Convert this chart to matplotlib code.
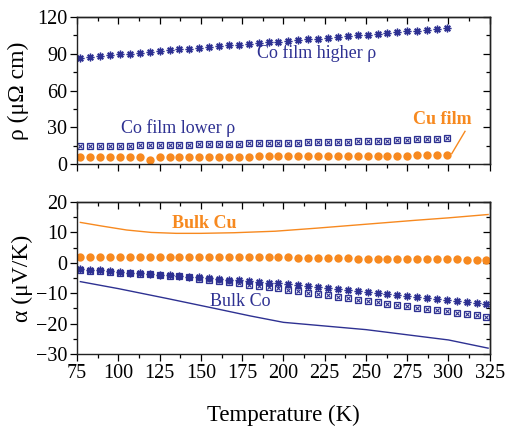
import matplotlib
matplotlib.use("Agg")
import matplotlib.pyplot as plt
from matplotlib.ticker import MultipleLocator
import numpy as np

plt.rcParams['font.family'] = ['Liberation Serif', 'DejaVu Serif']

navy = '#2e3192'
orange = '#f7891f'

# temperatures of the measured points (K)
T_top = np.arange(77, 300, 6)      # 38 points, resistivity
T_bot = np.arange(77, 324, 6)      # 42 points, Seebeck

# resistivity (uOhm cm)
rho_co_high = [86.5, 87.3, 88.0, 88.8, 89.5, 90.2, 90.9, 91.6, 92.3, 93.0,
               93.6, 94.3, 94.9, 95.6, 96.2, 96.9, 97.5, 98.1, 98.8, 99.4,
               100.0, 100.7, 101.3, 101.9, 102.5, 103.2, 103.8, 104.4, 105.1, 105.7,
               106.3, 107.0, 107.6, 108.3, 108.9, 109.6, 110.2, 110.9]
rho_co_low = [14.4, 14.5, 14.6, 14.8, 14.9, 15.0, 15.1, 15.3, 15.4, 15.5,
              15.7, 15.8, 15.9, 16.1, 16.2, 16.4, 16.5, 16.7, 16.8, 17.0,
              17.1, 17.3, 17.4, 17.6, 17.8, 17.9, 18.1, 18.3, 18.5, 18.7,
              18.9, 19.1, 19.4, 19.7, 20.0, 20.3, 20.7, 21.1]
rho_cu = [5.4, 5.4, 5.5, 5.5, 5.5, 5.6, 5.6, 3.5, 5.7, 5.7,
          5.8, 5.8, 5.8, 5.9, 5.9, 6.0, 6.0, 6.0, 6.1, 6.1,
          6.2, 6.2, 6.2, 6.3, 6.3, 6.4, 6.4, 6.5, 6.5, 6.6,
          6.6, 6.7, 6.7, 6.8, 6.9, 7.0, 7.1, 7.3]

# Seebeck coefficient (uV/K)
S_co_high = [-2.1, -2.3, -2.5, -2.8, -3.0, -3.2, -3.4, -3.6, -3.9, -4.1,
             -4.3, -4.6, -4.8, -5.1, -5.3, -5.6, -5.8, -6.1, -6.3, -6.6,
             -6.8, -7.1, -7.4, -7.8, -8.1, -8.4, -8.7, -9.0, -9.3, -9.7,
             -10.0, -10.3, -10.6, -10.9, -11.2, -11.6, -11.9, -12.2, -12.5, -12.9,
             -13.2, -13.5]
S_co_low = [-2.4, -2.6, -2.8, -3.0, -3.2, -3.4, -3.6, -3.8, -4.0, -4.2,
            -4.5, -4.8, -5.2, -5.6, -6.0, -6.4, -6.8, -7.2, -7.6, -8.0,
            -8.4, -8.9, -9.3, -9.8, -10.2, -10.7, -11.2, -11.6, -12.1, -12.5,
            -13.0, -13.4, -13.9, -14.3, -14.8, -15.2, -15.6, -16.0, -16.4, -16.9,
            -17.3, -17.7]
S_cu = [1.9, 1.9, 1.9, 1.9, 1.9, 1.9, 1.9, 1.9, 1.9, 1.9,
        1.9, 1.9, 1.9, 1.9, 1.8, 1.8, 1.8, 1.8, 1.8, 1.8,
        1.8, 1.8, 1.7, 1.7, 1.6, 1.6, 1.5, 1.5, 1.4, 1.4,
        1.4, 1.3, 1.3, 1.3, 1.2, 1.2, 1.1, 1.1, 1.1, 1.0,
        1.0, 0.9]

# bulk reference curves
T_bulk_cu = [77, 90, 105, 120, 135, 150, 170, 195, 220, 250, 280, 300, 324]
S_bulk_cu = [13.3, 12.1, 10.8, 10.0, 9.7, 9.7, 9.9, 10.4, 11.4, 12.7, 14.0, 14.8, 15.9]
T_bulk_co = [77, 100, 130, 160, 180, 200, 225, 250, 275, 300, 324]
S_bulk_co = [-6.2, -8.5, -11.8, -15.2, -17.5, -19.6, -20.8, -22.0, -23.7, -25.4, -28.1]

fig = plt.figure(figsize=(5.07, 4.29), dpi=100)
ax1 = fig.add_axes([0.152, 0.618, 0.814, 0.342])
ax2 = fig.add_axes([0.152, 0.175, 0.814, 0.354])

star = dict(marker=(8, 2, 0), ls='none', ms=5.5, mew=1.0, color=navy)
box = dict(marker='s', ls='none', ms=4.6, mew=0.9, mfc='none', mec=navy)
cross = dict(marker='x', ls='none', ms=3.2, mew=0.8, color=navy)
dot = dict(marker='o', ls='none', ms=6.0, mew=0, color=orange)

# top: resistivity
ax1.plot(T_top, rho_co_high, **star)
ax1.plot(T_top, rho_co_low, **box)
ax1.plot(T_top, rho_co_low, **cross)
ax1.plot(T_top, rho_cu, **dot)
ax1.text(220, 91, 'Co film higher ρ', color=navy, fontsize=13, ha='center', va='center')
ax1.text(136, 29.5, 'Co film lower ρ', color=navy, fontsize=13, ha='center', va='center')
ax1.text(296, 36, 'Cu film', color=orange, fontsize=13, fontweight='bold', ha='center', va='center')
ax1.plot([302, 310], [8.4, 26.6], color=orange, lw=1)
ax1.set_ylim(0, 120)
ax1.yaxis.set_major_locator(MultipleLocator(30))
ax1.yaxis.set_minor_locator(MultipleLocator(15))
ax1.set_ylabel('ρ (μΩ cm)', fontsize=17, labelpad=6)
ax1.tick_params(labelbottom=False)

# bottom: Seebeck
ax2.plot(T_bulk_cu, S_bulk_cu, color=orange, lw=1)
ax2.plot(T_bulk_co, S_bulk_co, color=navy, lw=1)
ax2.plot(T_bot, S_cu, **dot)
ax2.plot(T_bot, S_co_low, **box)
ax2.plot(T_bot, S_co_low, **cross)
ax2.plot(T_bot, S_co_high, **star)
ax2.text(152, 12.9, 'Bulk Cu', color=orange, fontsize=13, fontweight='bold', ha='center', va='center')
ax2.text(174, -12.8, 'Bulk Co', color=navy, fontsize=13, ha='center', va='center')
ax2.set_ylim(-30, 20)
ax2.yaxis.set_major_locator(MultipleLocator(10))
ax2.yaxis.set_minor_locator(MultipleLocator(5))
ax2.set_ylabel('α (μV/K)', fontsize=17, labelpad=2)
ax2.set_xlabel('Temperature (K)', fontsize=16.5, labelpad=16)

for ax in (ax1, ax2):
    ax.set_xlim(75, 325)
    ax.xaxis.set_major_locator(MultipleLocator(25))
    ax.xaxis.set_minor_locator(MultipleLocator(12.5))
    ax.tick_params(which='both', direction='out', labelsize=14.5, width=0.9)
    ax.tick_params(which='major', length=5, pad=2)
    ax.tick_params(which='minor', length=3)
    for sp in ax.spines.values():
        sp.set_linewidth(1.0)
        sp.set_color('#222222')

    # inward ticks on the top and right edges
    top = ax.secondary_xaxis('top')
    top.xaxis.set_major_locator(MultipleLocator(25))
    top.xaxis.set_minor_locator(MultipleLocator(12.5))
    right = ax.secondary_yaxis('right')
    right.yaxis.set_major_locator(ax.yaxis.get_major_locator())
    right.yaxis.set_minor_locator(ax.yaxis.get_minor_locator())
    for sec in (top, right):
        sec.tick_params(which='both', direction='in', width=0.9,
                        labeltop=False, labelright=False)
        sec.tick_params(which='major', length=5)
        sec.tick_params(which='minor', length=3)
        for sp in sec.spines.values():
            sp.set_linewidth(1.0)
            sp.set_color('#222222')

fig.savefig('out.png', dpi=100)
